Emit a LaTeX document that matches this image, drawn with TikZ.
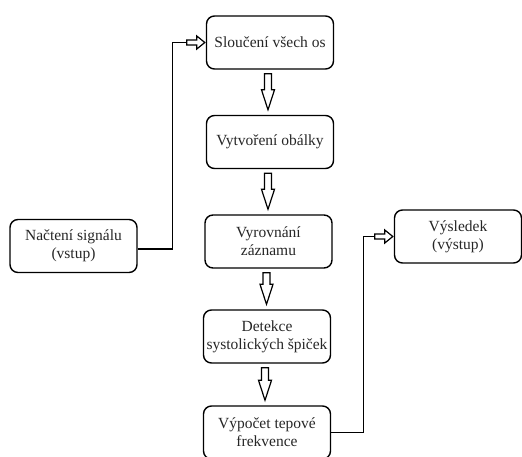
\documentclass[tikz,border=0pt]{standalone}
\usepackage{fontspec}
\setmainfont{Liberation Serif}
\newfontfamily\boxfont{Liberation Serif}
\usetikzlibrary{calc}

\begin{document}
\begin{tikzpicture}[x=1pt, y=-1pt,
	box/.style={draw, rounded corners=8pt, line width=1.4pt, minimum width=127pt, minimum height=53pt, align=center, inner sep=2pt, font=\boxfont\fontsize{15.5}{18}\selectfont, text=black!85},
	blockarrow/.style={draw, fill=white, line width=1.2pt, line join=miter},
	link/.style={line width=1.4pt}]
	\useasboundingbox (0,0) rectangle (522,456);

	\newcommand\downArrow[2]{\draw[blockarrow] let \p1=($(#1.south)+(-2,0)$), \p2=(#2.north) in
		(\x1-3.5pt,\y1-4pt) -- (\x1+3.5pt,\y1-4pt) -- (\x1+3.5pt,\y2+25pt) -- (\x1+6.5pt,\y2+25pt) -- (\x1,\y2+5pt) -- (\x1-6.5pt,\y2+25pt) -- (\x1-3.5pt,\y2+25pt) -- cycle;}
	\newcommand\rightArrow[1]{\draw[blockarrow] let \p1=(#1.west) in
		(\x1-19pt,\y1+2.5pt) -- (\x1-9pt,\y1+2.5pt) -- (\x1-9pt,\y1+6.5pt) -- (\x1-1pt,\y1) -- (\x1-9pt,\y1-6.5pt) -- (\x1-9pt,\y1-2.5pt) -- (\x1-19pt,\y1-2.5pt) -- cycle;}

	% main column
	\node[box] (slouceni) at (270,42.5) {Sloučení všech os};
	\node[box] (obalka) at (270,142) {Vytvoření obálky};
	\node[box] (vyrovnani) at (268.5,241.5) {Vyrovnání\\záznamu};
	\node[box] (detekce) at (267,336.5) {Detekce\\systolických špiček};
	\node[box] (tep) at (267,432.5) {Výpočet tepové\\frekvence};

	% input and output
	\node[box] (nacteni) at (73.5,246) {Načtení signálu\\(vstup)};
	\node[box] (vysledek) at (458,236.5) {Výsledek\\(výstup)};

	\downArrow{slouceni}{obalka}
	\downArrow{obalka}{vyrovnani}
	\downArrow{vyrovnani}{detekce}
	\downArrow{detekce}{tep}

	\draw[link] ($(nacteni.east)+(0,3)$) -- ++(35,0) |- ($(slouceni.west)+(-19,0)$);
	\rightArrow{slouceni}
	\draw[link] (tep.east) -- ++(32,0) |- ($(vysledek.west)+(-19,0)$);
	\rightArrow{vysledek}
\end{tikzpicture}
\end{document}
